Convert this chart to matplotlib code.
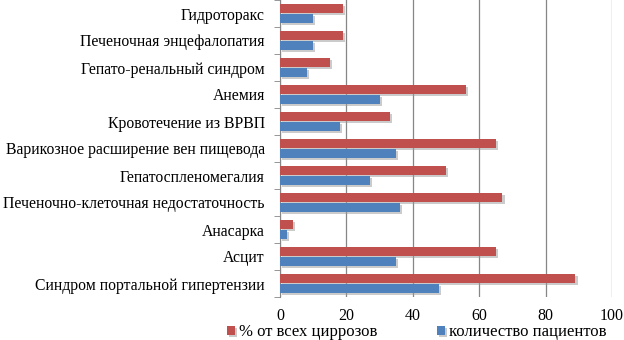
import numpy as np
import matplotlib
matplotlib.use("Agg")
import matplotlib.pyplot as plt
import matplotlib.patheffects as pe

plt.rcParams['font.family'] = ['Liberation Serif', 'DejaVu Serif']

# categories bottom -> top, as in the picture
categories = [
    "Синдром портальной гипертензии",
    "Асцит",
    "Анасарка",
    "Печеночно-клеточная недостаточность",
    "Гепатоспленомегалия",
    "Варикозное расширение вен пищевода",
    "Кровотечение из ВРВП",
    "Анемия",
    "Гепато-ренальный синдром",
    "Печеночная энцефалопатия",
    "Гидроторакс",
]
pct_all = [89, 65, 4, 67, 50, 65, 33, 56, 15, 19, 19]
n_patients = [48, 35, 2, 36, 27, 35, 18, 30, 8, 10, 10]
x_ticks = [0, 20, 40, 60, 80, 100]

RED = "#C0504D"
BLUE = "#4F81BD"

fig = plt.figure(figsize=(6.24, 3.40), dpi=100)
ax = fig.add_axes([280 / 624, 43 / 340, 332 / 624, 297 / 340])

y = np.arange(len(categories))
h = 0.33
shadow = [pe.SimplePatchShadow(offset=(1.5, -1.5), shadow_rgbFace="#999999", alpha=0.5), pe.Normal()]
ax.barh(y + 0.18, pct_all, height=h, color=RED, label="% от всех циррозов",
        path_effects=shadow, zorder=3)
ax.barh(y - 0.17, n_patients, height=h, color=BLUE, label="количество пациентов",
        path_effects=shadow, zorder=3)

ax.set_xlim(0, 100)
ax.set_ylim(-0.5, len(categories) - 0.5)
ax.set_xticks(x_ticks)
ax.set_xticklabels([str(t) for t in x_ticks], fontsize=11.5)
ax.set_yticks(y)
ax.set_yticklabels(categories, fontsize=11.3)
ax.tick_params(axis='y', length=0, pad=11)
ax.tick_params(axis='x', length=0, pad=8)
ax.set_yticks(np.arange(-0.5, len(categories), 1), minor=True)
ax.tick_params(axis='y', which='minor', length=4, color="#868686", direction='out')

ax.grid(axis='x', color="#868686", linewidth=0.9, zorder=0)
for s in ["top", "right", "bottom"]:
    ax.spines[s].set_visible(False)
ax.spines["left"].set_color("#868686")

fig.legend(loc="center", bbox_to_anchor=(0.668, 8 / 340), ncol=2, frameon=False,
           fontsize=12, handlelength=0.45, handleheight=0.45, handletextpad=0.25,
           columnspacing=3.6, borderpad=0)

fig.savefig("out.png", dpi=100)
